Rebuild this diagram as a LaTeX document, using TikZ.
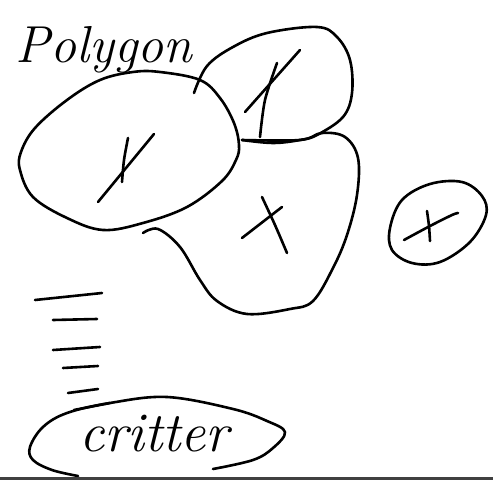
\documentclass[tikz,border=0pt]{standalone}
\begin{document}
\begin{tikzpicture}[x=1pt,y=-1pt,
  ink/.style={line width=2.6pt,line cap=round,line join=round,black},
  hand/.style={font=\itshape}]
\useasboundingbox[fill=white] (0,0) rectangle (493,487);
% title
\node[hand,font=\fontsize{52}{56}\selectfont\itshape] (title) at (104,50) {Polygon};
% big left blob
\draw[ink] plot[smooth cycle,tension=0.6] coordinates {
 (160,72) (200,80) (220,98) (234,123) (239,145) (236,160) (222,181) (187,207)
 (143,223) (103,230) (67,218) (33,197) (20,170) (21,152) (35,128) (67,100) (100,80) (133,72)};
\draw[ink] (154,134) -- (98,202);
\draw[ink] plot[smooth] coordinates {(128,138) (124,160) (122,182)};
% upper middle blob (open)
\draw[ink] plot[smooth,tension=0.6] coordinates {
 (194,93) (207,66) (233,47) (267,33) (317,27) (337,37) (350,60) (352,93)
 (343,117) (317,135) (300,140) (273,143) (242,140)};
\draw[ink] (300,50) -- (245,112);
\draw[ink] plot[smooth] coordinates {(277,63) (265,100) (260,137)};
% lower middle blob (open)
\draw[ink] plot[smooth,tension=0.6] coordinates {
 (143,233) (158,229) (180,247) (200,280) (217,301) (247,314) (290,309) (313,301)
 (333,268) (347,235) (357,195) (358,158) (345,137) (322,133) (300,140) (242,140)};
\draw[ink] plot[smooth] coordinates {(262,197) (275,225) (287,253)};
\draw[ink] (282,207) -- (242,238);
% small right circle
\draw[ink] plot[smooth cycle,tension=0.6] coordinates {
 (390,228) (402,200) (430,184) (462,182) (482,196) (486,215) (470,242)
 (440,262) (412,263) (392,250)};
\draw[ink] plot[smooth] coordinates {(404,240) (430,226) (452,215) (458,213)};
\draw[ink] plot[smooth] coordinates {(427,211) (429,226) (430,241)};
% stack of dashes
\draw[ink] (35,300) -- (102,293);
\draw[ink] (53,320) -- (97,319);
\draw[ink] (53,350) -- (100,347);
\draw[ink] (63,368) -- (98,366);
\draw[ink] (68,393) -- (98,389);
\draw[ink] (74,410) -- (110,403);
% critter
\draw[ink] plot[smooth,tension=0.6] coordinates {
 (213,469) (253,460) (273,448) (285,432) (267,421) (233,409) (167,397) (110,403)
 (67,413) (43,427) (30,447) (33,460) (52,470) (78,476)};
\node[hand,font=\fontsize{56}{60}\selectfont\itshape] (critter) at (154,434) {critter};
% page edge line
\draw[line width=3pt,black!75] (0,478) -- (493,478);
\end{tikzpicture}
\end{document}
